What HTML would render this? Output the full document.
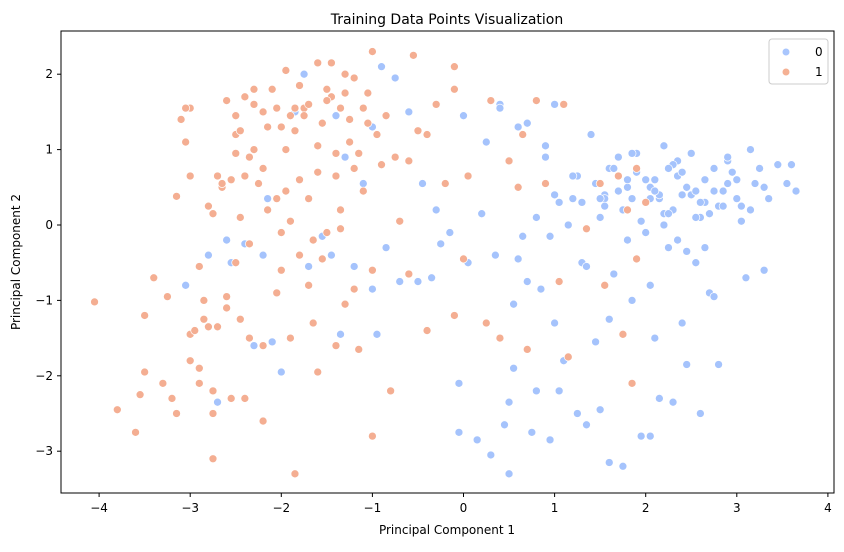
<!DOCTYPE html>
<html><head><meta charset="utf-8"><style>
body{margin:0;background:#fff;}
svg text{font-family:"DejaVu Sans","Liberation Sans",sans-serif;fill:#000;}
</style></head><body>
<svg id="chart" width="844" height="547" xmlns="http://www.w3.org/2000/svg">
<text x="447" y="24" font-size="14" text-anchor="middle">Training Data Points Visualization</text>
<g id="marks"></g>
<rect x="61" y="31" width="773" height="462" fill="none" stroke="#000" stroke-width="1"/>
<g id="xt"></g><g id="yt"></g>
<text x="447" y="534" font-size="12" text-anchor="middle">Principal Component 1</text>
<text transform="translate(20,262) rotate(-90)" font-size="12" text-anchor="middle">Principal Component 2</text>
<g>
<rect x="769" y="39" width="59" height="45" rx="3" fill="#fff" stroke="#ccc"/>
<circle cx="786" cy="52" r="3.5" fill="#a9c6fd"/>
<text x="815" y="56" font-size="12">0</text>
<circle cx="786" cy="72" r="3.5" fill="#f5b194"/>
<text x="815" y="76" font-size="12">1</text>
</g>
</svg>
<script>
const xTicks=[-4,-3,-2,-1,0,1,2,3,4];
const yTicks=[-3,-2,-1,0,1,2];
const class0X=[-3.05,-2.8,-2.7,-2.6,-2.55,-2.4,-2.3,-2.2,-2.15,-2.1,-2.0,-1.85,-1.75,-1.7,-1.55,-1.45,-1.4,-1.35,-1.3,-1.2,-1.1,-1.0,-1.0,-0.95,-0.9,-0.85,-0.75,-0.7,-0.5,-0.45,-0.35,-0.25,-0.15,0.0,-0.05,-0.05,0.05,0.15,0.2,0.3,0.35,0.4,0.45,0.5,0.5,0.55,0.55,0.6,0.65,0.7,0.75,0.8,0.85,0.9,0.95,1.0,1.05,1.05,1.1,1.2,1.25,1.3,1.35,1.4,1.45,1.5,1.5,1.55,1.6,1.6,1.65,1.7,1.75,1.8,1.8,1.85,1.9,1.95,2.0,2.05,2.05,2.1,2.1,2.15,2.2,2.2,2.25,2.3,2.35,2.4,2.4,2.45,2.5,2.55,2.6,2.65,2.7,2.75,2.8,2.85,2.9,3.0,3.05,3.15,3.2,3.25,3.3,3.35,3.45,3.55,3.6,3.65,1.3,1.45,1.6,1.75,1.9,2.05,2.2,2.35,2.5,2.65,2.8,2.95,1.55,1.7,2.0,2.3,2.6,2.9,1.15,1.35,2.15,2.45,2.75,0.8,0.95,1.85,2.25,2.55,3.1,-0.3,-0.6,0.25,0.7,1.0,1.4,1.55,1.7,1.85,2.0,2.15,2.3,2.45,2.6,2.75,2.9,3.05,1.25,1.5,1.8,2.1,2.4,2.7,3.0,3.3,1.65,1.95,2.25,2.55,2.85,3.15,1.0,1.2,2.05,2.35,2.65,0.6,0.4,0.9];
const class0Y=[-0.8,-0.4,-2.35,-0.2,-0.5,-0.25,-1.6,-0.4,0.35,-1.55,-1.95,1.5,2.0,-0.55,-0.15,-0.4,1.45,-1.45,0.9,-0.55,0.55,-0.85,1.3,-1.45,2.1,-0.3,1.95,-0.75,-0.75,0.55,-0.7,-0.25,-0.1,1.45,-2.1,-2.75,-0.5,-2.85,0.15,-3.05,-0.4,1.6,-2.65,-3.3,-2.35,-1.05,-1.9,1.3,-0.15,-0.75,-2.75,-2.2,-0.85,0.9,-2.85,-1.3,0.3,-2.2,-1.8,0.35,-2.5,-0.5,-2.65,1.2,-1.55,0.1,-2.45,0.4,-1.25,-3.15,-0.65,0.9,-3.2,0.5,-0.2,-1.0,0.95,-2.8,0.3,-0.8,-2.8,0.6,-1.5,-2.3,0.0,1.05,-0.3,-2.35,0.65,-1.3,0.4,-1.85,0.95,-0.5,-2.5,0.3,-0.9,0.75,-1.85,0.45,0.85,0.6,0.05,1.0,0.55,0.75,-0.6,0.35,0.8,0.55,0.8,0.45,0.3,0.55,0.75,0.2,0.7,0.5,0.15,0.85,0.4,0.6,0.25,0.7,0.35,0.65,-0.1,0.8,0.1,0.9,0.0,-0.55,0.35,-0.35,-0.95,0.1,-0.15,0.95,0.75,0.45,-0.7,0.2,1.5,1.1,1.35,1.6,1.2,0.25,0.45,0.35,0.6,0.4,0.2,0.5,0.3,0.45,0.55,0.25,0.65,0.35,0.6,0.45,0.7,0.15,0.35,0.5,0.75,0.05,0.15,0.1,0.25,0.2,0.4,0.65,0.35,-0.2,-0.3,-0.45,1.55,1.05,1.15];
const class1X=[-4.05,-3.8,-3.6,-3.55,-3.5,-3.5,-3.4,-3.3,-3.25,-3.2,-3.15,-3.15,-3.1,-3.05,-3.0,-3.0,-3.0,-3.0,-2.95,-2.9,-2.9,-2.85,-2.85,-2.8,-2.8,-2.75,-2.75,-2.75,-2.7,-2.7,-2.65,-2.6,-2.6,-2.55,-2.55,-2.5,-2.5,-2.5,-2.45,-2.45,-2.4,-2.4,-2.4,-2.35,-2.35,-2.3,-2.3,-2.25,-2.2,-2.2,-2.2,-2.15,-2.1,-2.05,-2.05,-2.0,-2.0,-1.95,-1.95,-1.9,-1.9,-1.85,-1.85,-1.85,-1.8,-1.8,-1.75,-1.7,-1.7,-1.65,-1.6,-1.6,-1.6,-1.55,-1.55,-1.5,-1.5,-1.45,-1.4,-1.4,-1.35,-1.35,-1.3,-1.3,-1.25,-1.2,-1.2,-1.15,-1.1,-1.1,-1.05,-1.0,-1.0,-1.0,-0.95,-0.9,-0.8,-0.75,-0.7,-0.6,-0.6,-0.55,-0.5,-0.4,-0.4,-0.3,-0.2,-0.1,-0.1,-0.1,0.0,0.05,0.25,0.3,0.4,0.5,0.6,0.65,0.7,0.8,0.9,1.05,1.1,1.15,1.35,1.5,1.55,1.7,1.75,1.8,1.85,1.9,1.9,2.0,-2.6,-2.2,-1.9,-1.7,-1.45,-1.25,-2.0,-1.6,-2.35,-1.15,-2.75,-2.45,-2.65,-1.8,-1.35,-2.3,-2.05,-1.75,-1.5,-1.3,-1.05,-2.15,-1.65,-1.95,-2.5,-2.9,-3.05,-1.4,-1.2,-0.85];
const class1Y=[-1.02,-2.45,-2.75,-2.25,-1.95,-1.2,-0.7,-2.1,-0.95,-2.3,-2.5,0.38,1.4,1.1,0.65,1.55,-1.45,-1.8,-1.4,-1.9,-2.1,-1.0,-1.25,-1.35,0.25,-2.2,-2.5,-3.1,0.65,-1.35,0.5,-0.95,-1.1,0.6,-2.3,-0.5,1.2,1.45,1.25,-1.25,-2.3,1.7,0.65,-1.5,-0.25,1.0,1.8,0.55,-1.6,-2.6,0.75,1.3,1.8,0.35,-0.9,-0.1,-0.6,2.05,1.0,-1.5,0.05,1.55,1.25,-3.3,-0.4,1.85,1.55,0.35,-0.8,-1.3,-1.95,2.15,0.7,1.35,-0.45,1.8,-0.1,2.15,0.65,-1.6,1.55,0.2,-1.05,2.0,1.1,1.95,-0.85,-1.65,0.45,1.55,1.75,2.3,-0.6,-2.8,1.2,0.8,-2.2,0.9,0.05,-0.65,0.85,2.25,1.25,-1.4,1.2,1.6,0.55,-1.2,1.8,2.1,-0.45,0.65,-1.3,1.65,-1.5,0.85,0.5,1.2,-1.65,1.65,0.55,-0.75,1.6,-1.75,-0.05,0.55,-0.8,0.65,-1.45,0.2,-2.1,-0.45,0.75,0.3,1.65,1.5,1.45,1.6,1.7,1.4,1.3,1.05,0.9,0.95,0.15,0.1,0.55,0.6,-0.05,1.6,1.55,1.45,1.65,1.75,1.35,0.2,-0.2,0.45,0.95,-0.55,1.55,0.95,0.75,1.45];
const X=v=>463.5+v*91.1, Y=v=>225-v*75.4;
const NS="http://www.w3.org/2000/svg";
const marks=document.getElementById('marks');
function pts(xs,ys,col,nm){
 for(let i=0;i<xs.length;i++){
  const c=document.createElementNS(NS,'circle');
  c.setAttribute('cx',X(xs[i]));c.setAttribute('cy',Y(ys[i]));c.setAttribute('r',4);
  c.setAttribute('fill',col);c.setAttribute('stroke','#fff');c.setAttribute('stroke-width',0.7);
  
  
  marks.appendChild(c);
 }
}
pts(class0X,class0Y,'#a5c3fc','point-class-0');
pts(class1X,class1Y,'#f4ae92','point-class-1');
const xt=document.getElementById('xt'), yt=document.getElementById('yt');
xTicks.forEach(t=>{
 const l=document.createElementNS(NS,'line');
 l.setAttribute('x1',X(t));l.setAttribute('x2',X(t));l.setAttribute('y1',493);l.setAttribute('y2',497);l.setAttribute('stroke','#000');
 
 
 xt.appendChild(l);
 const s=document.createElementNS(NS,'text');
 s.setAttribute('x',X(t));s.setAttribute('y',512);s.setAttribute('font-size',12);s.setAttribute('text-anchor','middle');
 s.textContent=(t<0?'\u2212'+(-t):t);
 
 
 xt.appendChild(s);
});
yTicks.forEach(t=>{
 const l=document.createElementNS(NS,'line');
 l.setAttribute('x1',57);l.setAttribute('x2',61);l.setAttribute('y1',Y(t));l.setAttribute('y2',Y(t));l.setAttribute('stroke','#000');
 
 
 yt.appendChild(l);
 const s=document.createElementNS(NS,'text');
 s.setAttribute('x',53);s.setAttribute('y',Y(t)+4);s.setAttribute('font-size',12);s.setAttribute('text-anchor','end');
 s.textContent=(t<0?'\u2212'+(-t):t);
 
 
 yt.appendChild(s);
});
</script>
</body></html>
